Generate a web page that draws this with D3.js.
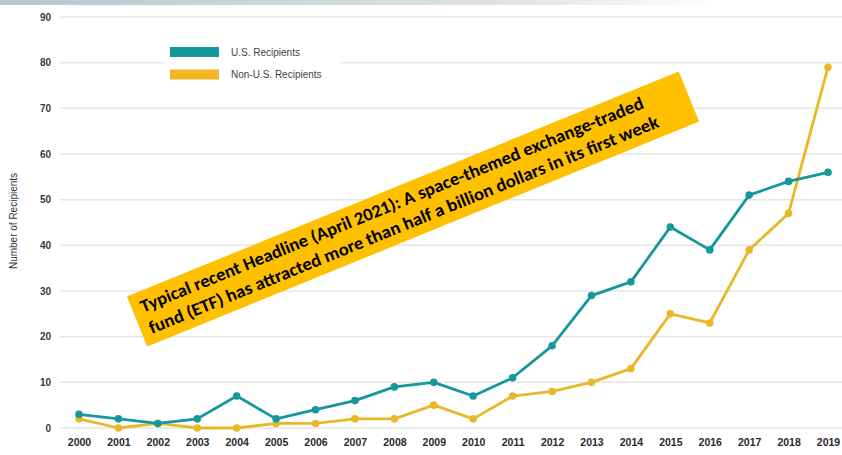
<!DOCTYPE html>
<html>
<head>
<meta charset="utf-8">
<script src="https://cdn.jsdelivr.net/npm/d3@7"></script>
<style>
  body { margin: 0; background: #fff; }
  svg { display: block; }
</style>
</head>
<body>
<script>
var years = [2000, 2001, 2002, 2003, 2004, 2005, 2006, 2007, 2008, 2009,
             2010, 2011, 2012, 2013, 2014, 2015, 2016, 2017, 2018, 2019];
var usRecipients = [3, 2, 1, 2, 7, 2, 4, 6, 9, 10, 7, 11, 18, 29, 32, 44, 39, 51, 54, 56];
var nonUsRecipients = [2, 0, 1, 0, 0, 1, 1, 2, 2, 5, 2, 7, 8, 10, 13, 25, 23, 39, 47, 79];
var yTicks = [0, 10, 20, 30, 40, 50, 60, 70, 80, 90];
var seriesNames = ["U.S. Recipients", "Non-U.S. Recipients"];
var headline = [
  "Typical recent Headline (April 2021): A space-themed exchange-traded",
  "fund (ETF) has attracted more than half a billion dollars in its first week"
];

var width = 842, height = 455;
var tealColor = "#16979b", goldColor = "#e9b829";

var svg = d3.select("body").append("svg")
    .attr("width", width)
    .attr("height", height);

// faded header band from the slide
var grad = svg.append("defs").append("linearGradient")
    .attr("id", "band").attr("x1", 0).attr("x2", 1).attr("y1", 0).attr("y2", 0);
grad.append("stop").attr("offset", "0%").attr("stop-color", "#b9c6cc");
grad.append("stop").attr("offset", "70%").attr("stop-color", "#dde3e6");
grad.append("stop").attr("offset", "100%").attr("stop-color", "#ffffff");
svg.append("rect").attr("x", 0).attr("y", 0).attr("width", 720).attr("height", 5)
    .attr("fill", "url(#band)");

var x = d3.scalePoint().domain(years).range([79, 828]);
var y = d3.scaleLinear().domain([0, 90]).range([428, 17]);

// grid
svg.append("g")
  .selectAll("line")
  .data(yTicks)
  .join("line")
    .attr("x1", 60).attr("x2", width)
    .attr("y1", function (d) { return y(d); })
    .attr("y2", function (d) { return y(d); })
    .attr("stroke", "#e6e6e6")
    .attr("stroke-width", 1.5);

// y axis labels
var yAxis = svg.append("g")
    .attr("transform", "translate(51,0)")
    .call(d3.axisLeft(y).tickValues(yTicks).tickSize(0).tickPadding(0));
yAxis.select(".domain").remove();
yAxis.selectAll("text")
    .attr("font-family", "'Liberation Sans', Arial, sans-serif")
    .attr("font-size", 10)
    .attr("font-weight", "bold")
    .attr("fill", "#3a3a3a");

// x axis labels
var xAxis = svg.append("g")
    .attr("transform", "translate(0,439)")
    .call(d3.axisBottom(x).tickSize(0).tickPadding(0));
xAxis.select(".domain").remove();
xAxis.selectAll("text")
    .attr("font-family", "'Liberation Sans', Arial, sans-serif")
    .attr("font-size", 10.5)
    .attr("font-weight", "bold")
    .attr("fill", "#2a2a2a");

svg.append("text")
    .attr("transform", "translate(17,221) rotate(-90)")
    .attr("text-anchor", "middle")
    .attr("font-family", "'Liberation Sans', Arial, sans-serif")
    .attr("font-size", 10)
    .attr("fill", "#333")
    .text("Number of Recipients");

// legend (white box hides the grid line)
var legend = svg.append("g");
legend.append("rect").attr("x", 164).attr("y", 38).attr("width", 177).attr("height", 48).attr("fill", "#fff");
var legendColors = [tealColor, "#f4b426"];
seriesNames.forEach(function (name, i) {
  legend.append("rect")
      .attr("x", 170).attr("y", 47 + i * 22.5)
      .attr("width", 49).attr("height", 10)
      .attr("fill", legendColors[i]);
  legend.append("text")
      .attr("x", 231).attr("y", 55.5 + i * 22.5)
      .attr("font-family", "'Liberation Sans', Arial, sans-serif")
      .attr("font-size", 10)
      .attr("fill", "#444")
      .text(name);
});

// series
var line = d3.line()
    .x(function (d, i) { return x(years[i]); })
    .y(function (d) { return y(d); });

function drawSeries(values, color) {
  svg.append("path")
      .datum(values)
      .attr("d", line)
      .attr("fill", "none")
      .attr("stroke", color)
      .attr("stroke-width", 2.8)
      .attr("stroke-linejoin", "round");
  svg.append("g")
    .selectAll("circle")
    .data(values)
    .join("circle")
      .attr("cx", function (d, i) { return x(years[i]); })
      .attr("cy", function (d) { return y(d); })
      .attr("r", 3.8)
      .attr("fill", color);
}
drawSeries(nonUsRecipients, goldColor);
drawSeries(usRecipients, tealColor);

// rotated headline callout
var callout = svg.append("g")
    .attr("transform", "translate(413,209) rotate(-22.2)");
callout.append("rect")
    .attr("x", -298).attr("y", -27)
    .attr("width", 596).attr("height", 54)
    .attr("fill", "#ffc000");
headline.forEach(function (t, i) {
  callout.append("text")
      .attr("x", -289)
      .attr("y", -6 + i * 23)
      .attr("font-family", "Carlito, 'Open Sans', 'Noto Sans', sans-serif")
      .attr("font-size", 18)
      .attr("font-weight", "bold")
      .attr("fill", "#000")
      .attr("textLength", i === 0 ? 542 : 549)
      .attr("lengthAdjust", "spacingAndGlyphs")
      .text(t);
});
</script>
</body>
</html>
